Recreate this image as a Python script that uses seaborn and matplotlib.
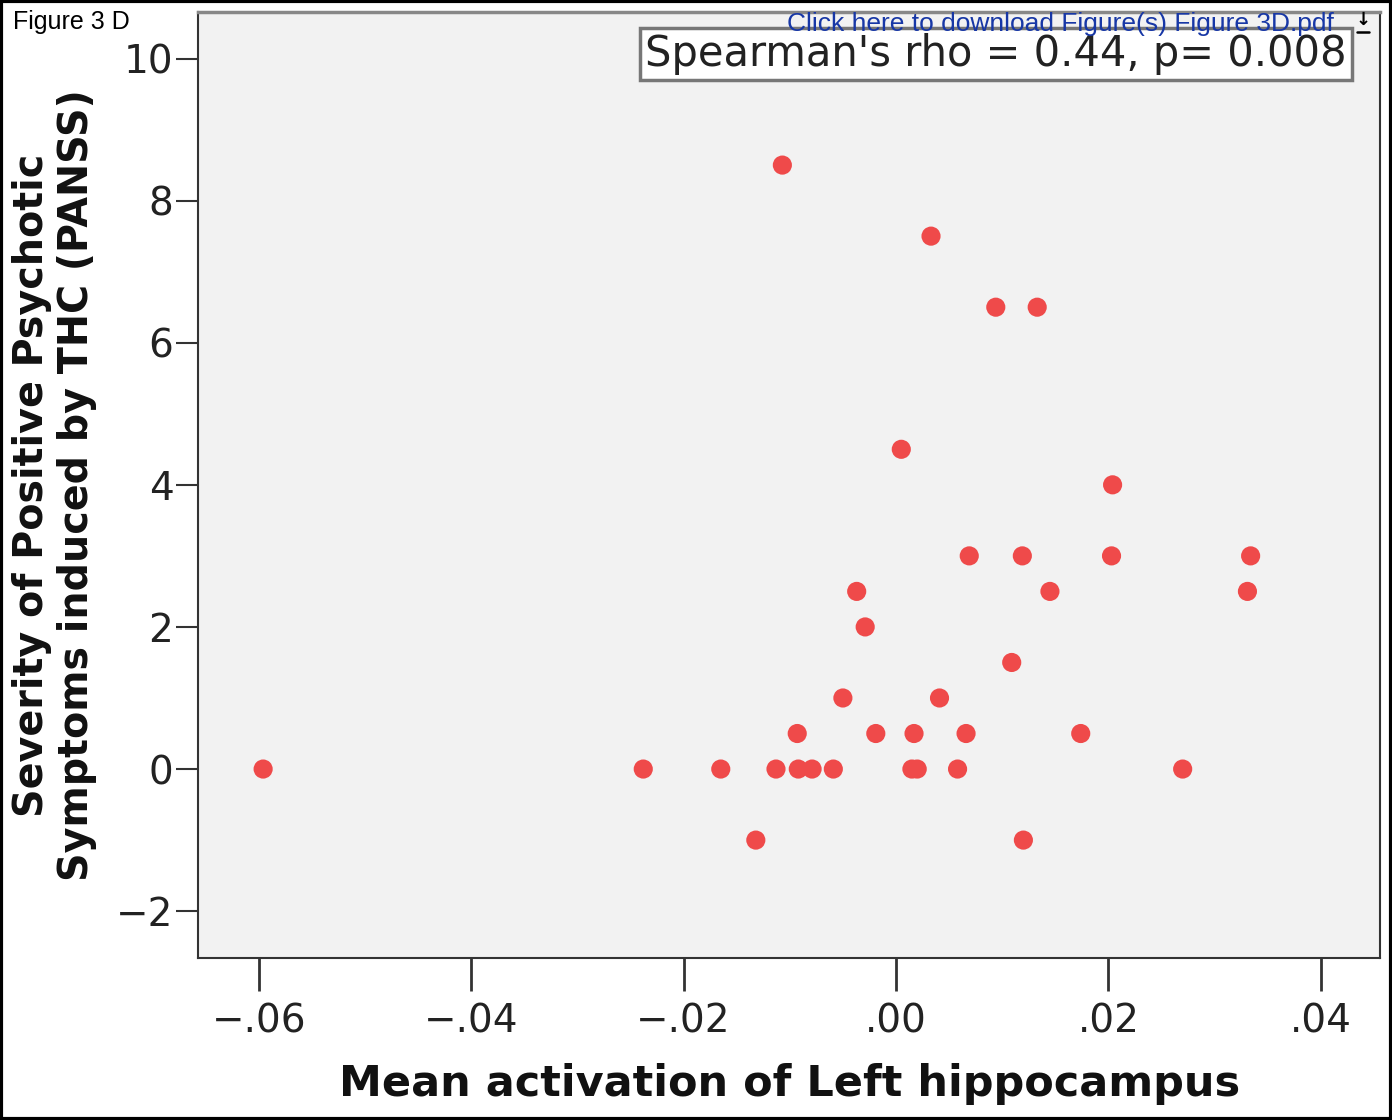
import matplotlib
matplotlib.use("Agg")
import matplotlib.pyplot as plt
import matplotlib.ticker as ticker
from matplotlib.patches import Rectangle
from matplotlib.lines import Line2D
import seaborn as sb
import pandas as pd

# Mean activation of left hippocampus vs. PANSS positive symptom change
activation = [-0.0596, -0.0238, -0.0165, -0.0132, -0.0113, -0.0107, -0.0093, -0.0092,
              -0.0079, -0.0059, -0.0050, -0.0037, -0.0029, -0.0019, 0.0005, 0.0015,
              0.0017, 0.0020, 0.0033, 0.0041, 0.0058, 0.0066, 0.0069, 0.0094, 0.0109,
              0.0119, 0.0120, 0.0133, 0.0145, 0.0174, 0.0203, 0.0204, 0.0270, 0.0331,
              0.0334]
panss = [0, 0, 0, -1, 0, 8.5, 0.5, 0, 0, 0, 1, 2.5, 2, 0.5, 4.5, 0,
         0.5, 0, 7.5, 1, 0, 0.5, 3, 6.5, 1.5, 3, -1, 6.5, 2.5, 0.5, 3, 4, 0, 2.5, 3]

x_ticks = [-0.06, -0.04, -0.02, 0.00, 0.02, 0.04]
x_ticklabels = ['\u2212.06', '\u2212.04', '\u2212.02', '.00', '.02', '.04']
y_ticks = [-2, 0, 2, 4, 6, 8, 10]

df = pd.DataFrame({'activation': activation, 'panss': panss})

sb.set_theme(style="white")
plt.rcParams['font.family'] = ['DejaVu Sans']

fig = plt.figure(figsize=(13.92, 11.2), dpi=100)
ax = fig.add_axes([0.1425, 0.1446, 0.849, 0.8444])
ax.set_facecolor('#f2f2f2')

sb.scatterplot(data=df, x='activation', y='panss', ax=ax, color='#ef4a4a',
               s=190, edgecolor='none', legend=False)

ax.set_xlim(-0.0657, 0.0456)
ax.set_ylim(-2.66, 10.65)
ax.set_xticks(x_ticks)
ax.set_xticklabels(x_ticklabels)
ax.set_yticks(y_ticks)
ax.yaxis.set_major_formatter(ticker.FuncFormatter(lambda v, p: f'{v:.0f}'.replace('-', '\u2212')))

for sp in ax.spines.values():
    sp.set_color('#333333')
    sp.set_linewidth(1.5)
ax.spines['top'].set_color('#888888')
ax.spines['top'].set_linewidth(2.5)

ax.tick_params(axis='x', direction='out', length=24, width=2, color='#333333',
               labelsize=28, pad=8, bottom=True, labelcolor='#222222')
ax.tick_params(axis='y', direction='out', length=16, width=1.5, color='#333333',
               labelsize=28, pad=2, left=True, labelcolor='#222222')

ax.set_xlabel('Mean activation of Left hippocampus', fontsize=31, fontweight='bold',
              color='#111111', labelpad=16)
ax.set_ylabel('Severity of Positive Psychotic\nSymptoms induced by THC (PANSS)',
              fontsize=28.5, fontweight='bold', color='#111111', labelpad=14,
              linespacing=1.15)

ax.text(0.378, 0.978, "Spearman's rho = 0.44, p= 0.008", transform=ax.transAxes,
        fontsize=30, color='#222222', ha='left', va='top',
        bbox=dict(boxstyle='square,pad=0.12', facecolor='white', edgecolor='#777777',
                  linewidth=2.5))

fig.text(0.009, 0.98, 'Figure 3 D', fontsize=18, ha='left', va='center',
         family=['Liberation Sans', 'DejaVu Sans'], color='black')
fig.text(0.958, 0.979, 'Click here to download Figure(s) Figure 3D.pdf', fontsize=19,
         ha='right', va='center', family=['Liberation Sans', 'DejaVu Sans'], color='#1737a6')
# download icon: arrow with a bar underneath
fig.text(0.979, 0.982, '\u2193', fontsize=13, ha='center', va='center', color='black',
         fontweight='bold')
fig.add_artist(Line2D([0.9745, 0.9835], [0.9715, 0.9715], transform=fig.transFigure,
                      color='black', linewidth=1.8))

fig.patches.append(Rectangle((0.001, 0.001), 0.998, 0.998, transform=fig.transFigure,
                             fill=False, edgecolor='black', linewidth=3))

plt.savefig('out.png', dpi=100)
